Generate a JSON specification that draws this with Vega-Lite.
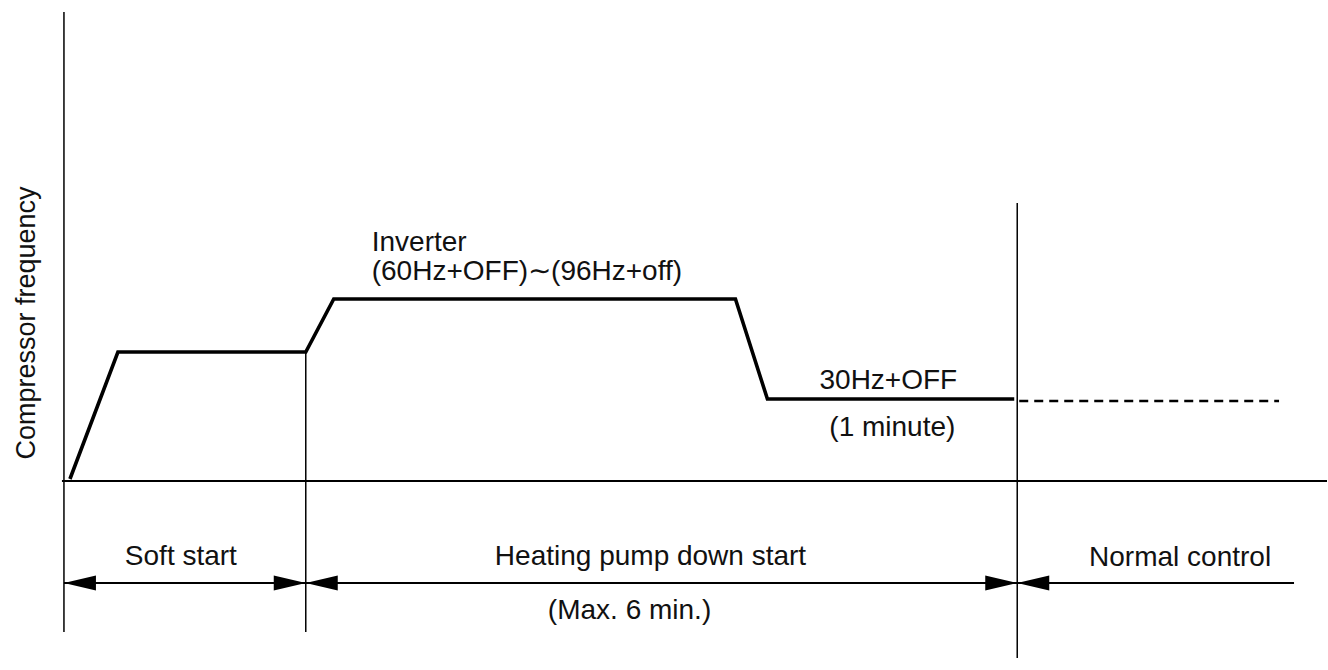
{
  "$schema": "https://vega.github.io/schema/vega-lite/v6.json",
  "width": 1328,
  "height": 670,
  "autosize": {"type": "fit", "contains": "padding"},
  "padding": 0,
  "background": "white",
  "config": {"view": {"stroke": null}},
  "datasets": {
    "vlines": [
      {"t": 0, "f1": 469, "f2": -151},
      {"t": 242, "f1": 129, "f2": -151},
      {"t": 954, "f1": 278, "f2": -177}
    ],
    "hlines": [
      {"t1": -2, "t2": 1264, "f": 0},
      {"t1": 0, "t2": 242, "f": -102},
      {"t1": 242, "t2": 954, "f": -102},
      {"t1": 954, "t2": 1231, "f": -102}
    ],
    "curve": [
      {"t": 6, "f": 2},
      {"t": 54, "f": 129},
      {"t": 242, "f": 129},
      {"t": 270, "f": 182},
      {"t": 672, "f": 182},
      {"t": 704, "f": 82},
      {"t": 951, "f": 82}
    ],
    "dashed": [
      {"t": 956, "f": 80},
      {"t": 1216, "f": 80}
    ],
    "heads": [
      {"t": 0, "f": -102, "dir": "left"},
      {"t": 242, "f": -102, "dir": "right"},
      {"t": 242, "f": -102, "dir": "left"},
      {"t": 954, "f": -102, "dir": "right"},
      {"t": 954, "f": -102, "dir": "left"}
    ],
    "notes": [
      {"t": 308, "f": 238, "text": "Inverter"},
      {"t": 308, "f": 209, "text": "(60Hz+OFF)∼(96Hz+off)"}
    ],
    "labels": [
      {"t": 825, "f": 100, "text": "30Hz+OFF"},
      {"t": 829, "f": 53, "text": "(1 minute)"},
      {"t": 117, "f": -76, "text": "Soft start"},
      {"t": 587, "f": -76, "text": "Heating pump down start"},
      {"t": 566, "f": -130, "text": "(Max. 6 min.)"},
      {"t": 1117, "f": -77, "text": "Normal control"}
    ],
    "ylabel": [
      {"t": -37, "f": 158, "text": "Compressor frequency"}
    ]
  },
  "layer": [
    {
      "data": {"name": "vlines"},
      "mark": {"type": "rule", "color": "black", "strokeWidth": 1.5},
      "encoding": {
        "x": {"field": "t", "type": "quantitative", "scale": {"domain": [-64, 1264], "nice": false, "zero": false}, "axis": null},
        "y": {"field": "f1", "type": "quantitative", "scale": {"domain": [-189, 481], "nice": false, "zero": false}, "axis": null},
        "y2": {"field": "f2"}
      }
    },
    {
      "data": {"name": "hlines"},
      "mark": {"type": "rule", "color": "black", "strokeWidth": 2},
      "encoding": {
        "x": {"field": "t1", "type": "quantitative", "axis": null},
        "x2": {"field": "t2"},
        "y": {"field": "f", "type": "quantitative", "axis": null}
      }
    },
    {
      "data": {"name": "curve"},
      "mark": {"type": "line", "color": "black", "strokeWidth": 3.6, "strokeJoin": "miter", "strokeCap": "butt"},
      "encoding": {
        "x": {"field": "t", "type": "quantitative", "axis": null},
        "y": {"field": "f", "type": "quantitative", "axis": null}
      }
    },
    {
      "data": {"name": "dashed"},
      "mark": {"type": "line", "color": "black", "strokeWidth": 2.6, "strokeDash": [9, 6]},
      "encoding": {
        "x": {"field": "t", "type": "quantitative", "axis": null},
        "y": {"field": "f", "type": "quantitative", "axis": null}
      }
    },
    {
      "data": {"name": "heads"},
      "mark": {"type": "point", "filled": true, "color": "black", "opacity": 1, "size": 1024, "strokeWidth": 0},
      "encoding": {
        "x": {"field": "t", "type": "quantitative", "axis": null},
        "y": {"field": "f", "type": "quantitative", "axis": null},
        "shape": {"field": "dir", "type": "nominal", "legend": null,
          "scale": {"domain": ["left", "right"], "range": ["M0,0L2,-0.47L2,0.47Z", "M0,0L-2,-0.47L-2,0.47Z"]}}
      }
    },
    {
      "data": {"name": "notes"},
      "mark": {"type": "text", "align": "left", "baseline": "middle", "font": "Liberation Sans", "fontSize": 28, "color": "#111"},
      "encoding": {
        "x": {"field": "t", "type": "quantitative", "axis": null},
        "y": {"field": "f", "type": "quantitative", "axis": null},
        "text": {"field": "text"}
      }
    },
    {
      "data": {"name": "labels"},
      "mark": {"type": "text", "align": "center", "baseline": "middle", "font": "Liberation Sans", "fontSize": 28, "color": "#111"},
      "encoding": {
        "x": {"field": "t", "type": "quantitative", "axis": null},
        "y": {"field": "f", "type": "quantitative", "axis": null},
        "text": {"field": "text"}
      }
    },
    {
      "data": {"name": "ylabel"},
      "mark": {"type": "text", "align": "center", "baseline": "middle", "angle": 270, "font": "Liberation Sans", "fontSize": 27, "color": "#111"},
      "encoding": {
        "x": {"field": "t", "type": "quantitative", "axis": null},
        "y": {"field": "f", "type": "quantitative", "axis": null},
        "text": {"field": "text"}
      }
    }
  ]
}
